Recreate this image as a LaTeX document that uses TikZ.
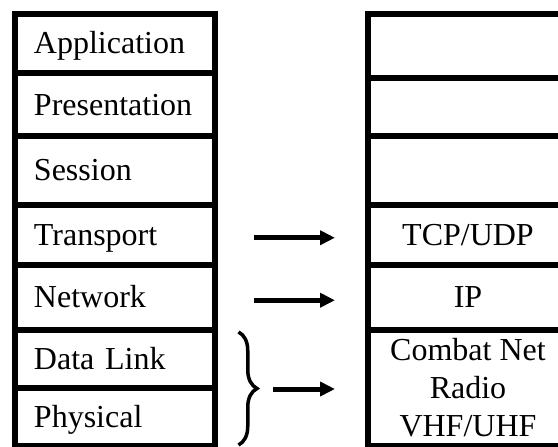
\documentclass[tikz,border=0pt]{standalone}
\usepackage{fontspec}
\setmainfont{Liberation Serif}
\usetikzlibrary{arrows.meta,decorations.pathreplacing}
\begin{document}
\begin{tikzpicture}[x=1pt,y=-1pt,
  layer/.style={draw=black, line width=6pt, rectangle, minimum width=200pt,
    inner sep=0pt, outer sep=0pt, font=\fontsize{32}{38}\selectfont},
  lefttext/.style={text width=162pt, align=left, text height=21pt, text depth=0pt},
  righttext/.style={text height=21pt, text depth=0pt},
  conn/.style={line width=5pt, -{Triangle[length=15pt,width=14pt]}},
  bracestyle/.style={line width=3.5pt, decorate, decoration={brace, amplitude=18.5pt}}
]
\useasboundingbox (0,0) rectangle (558,447);
\clip (0,0) rectangle (558,447);
% left column (OSI)
\node[layer, lefttext, minimum height=59.5pt] (app)  at (115,43.25)  {Application};
\node[layer, lefttext, minimum height=63pt]   (pres) at (115,104.5)  {Presentation};
\node[layer, lefttext, minimum height=68.5pt] (sess) at (115,170.25) {Session};
\node[layer, lefttext, minimum height=60.5pt] (trans) at (115,234.75) {Transport};
\node[layer, lefttext, minimum height=64.5pt] (net)  at (115,297.25) {Network};
\node[layer, lefttext, minimum height=58.5pt] (dl)   at (115,358.75) {Data Link};
\node[layer, lefttext, minimum height=58pt]   (phy)  at (115,417)    {Physical};
% right column
\node[layer, minimum height=64.5pt] (r1) at (468,45.75) {};
\node[layer, minimum height=58pt]   (r2) at (468,107)   {};
\node[layer, minimum height=68.5pt] (r3) at (468,170.25) {};
\node[layer, righttext, minimum height=60.5pt] (tcp) at (468,234.75) {TCP/UDP};
\node[layer, righttext, minimum height=64.5pt] (ip)  at (468,297.25) {IP};
\node[layer, align=center, minimum height=116.5pt] (cnr) at (468,387.75) {Combat Net\\Radio\\VHF/UHF};
% arrows
\draw[conn, shorten <=39pt, shorten >=33pt] ([yshift=-3pt]trans.east) -- ([yshift=-3pt]tcp.west);
\draw[conn, shorten <=39pt, shorten >=33pt] ([yshift=-3pt]net.east) -- ([yshift=-3pt]ip.west);
% brace
\coordinate (btop) at (238.5,332);
\coordinate (bbot) at (238.5,445);
\coordinate (btip) at (257,389);
\draw[bracestyle] (btop) -- (bbot);
\draw[conn, shorten <=16pt, shorten >=33pt] (btip) -- (btip -| cnr.west);
\end{tikzpicture}
\end{document}
